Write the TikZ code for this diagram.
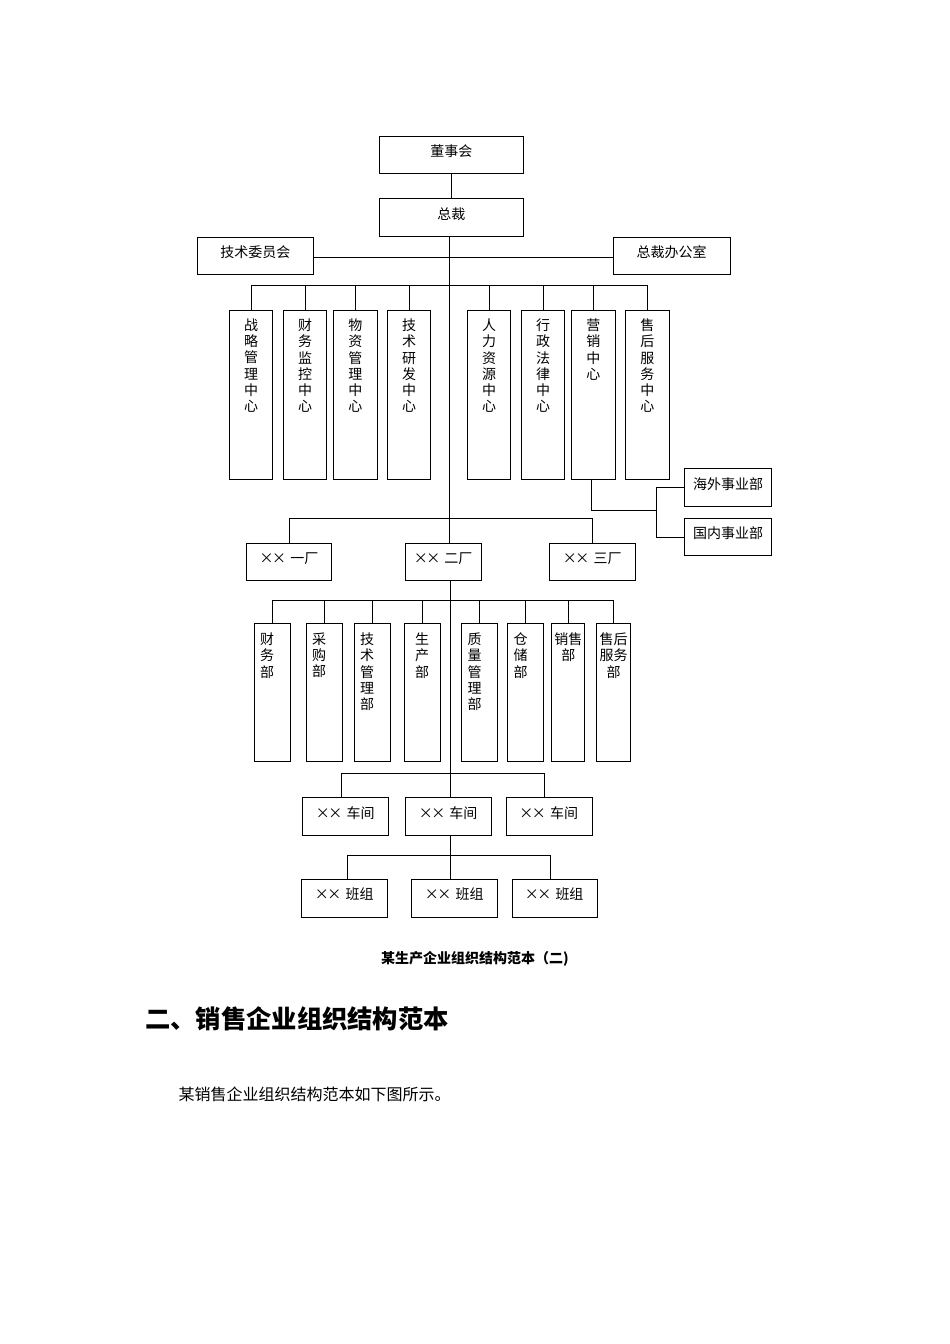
\documentclass[tikz,border=0pt]{standalone}
\usepackage{fontspec}
\newfontfamily\cjk{Noto Sans CJK SC}
\newcommand{\xxm}{\makebox[12.5pt]{×}\makebox[12.5pt]{×}\hspace{5pt}}
\begin{document}
\begin{tikzpicture}[x=1pt,y=-1pt,
  conn/.style={line width=1pt, draw=black},
  hbox/.style={draw=black, line width=1pt, inner sep=0pt, font=\cjk\fontsize{14}{16.3}\selectfont, text height=10pt, text depth=6.7pt},
  vbox/.style={draw=black, line width=1pt, inner sep=0pt},
  vtext/.style={font=\cjk\fontsize{14}{16.3}\selectfont, align=center, anchor=north, inner sep=0pt},
  cbox/.style={vbox, minimum width=43.3pt, minimum height=168.6pt, label={[vtext, yshift=-8.3pt]north:#1}},
  dbox/.style={vbox, minimum width=36pt, minimum height=137.3pt, label={[vtext, yshift=-9.3pt]north:#1}},
  dboxl/.style={vbox, minimum width=36pt, minimum height=137.3pt, label={[vtext, yshift=-9.3pt, xshift=-5pt]north:#1}}
]
\useasboundingbox (0,0) rectangle (950,1344);
\fill[white] (0,0) rectangle (950,1344);

% top level
\node[hbox, minimum width=144pt, minimum height=37.7pt] (dsh) at (451.3,154.9) {董事会};
\node[hbox, minimum width=144pt, minimum height=37.3pt] (zc) at (451.3,217.4) {总裁};
\node[hbox, minimum width=116pt, minimum height=37.7pt] (jsw) at (255.3,255.9) {技术委员会};
\node[hbox, minimum width=116.7pt, minimum height=37.7pt] (zcb) at (671.7,255.9) {总裁办公室};

% centres
\node[cbox={战\\略\\管\\理\\中\\心}] (c1) at (251,395) {};
\node[cbox={财\\务\\监\\控\\中\\心}] (c2) at (305,395) {};
\node[cbox={物\\资\\管\\理\\中\\心}] (c3) at (355.4,395) {};
\node[cbox={技\\术\\研\\发\\中\\心}] (c4) at (409.2,395) {};
\node[cbox={人\\力\\资\\源\\中\\心}] (c5) at (489.2,395) {};
\node[cbox={行\\政\\法\\律\\中\\心}] (c6) at (543.2,395) {};
\node[cbox={营\\销\\中\\心}] (c7) at (593.4,395) {};
\node[cbox={售\\后\\服\\务\\中\\心}] (c8) at (647.4,395) {};

\node[hbox, minimum width=87.4pt, minimum height=38pt] (hw) at (728,487.7) {海外事业部};
\node[hbox, minimum width=87.4pt, minimum height=37.3pt] (gn) at (728,537.3) {国内事业部};

% factories
\node[hbox, minimum width=85.3pt, minimum height=37.7pt] (f1) at (289.3,561.9) {\xxm 一厂};
\node[hbox, minimum width=76.4pt, minimum height=37.7pt] (f2) at (443.5,561.9) {\xxm 二厂};
\node[hbox, minimum width=86.4pt, minimum height=37.7pt] (f3) at (592.5,561.9) {\xxm 三厂};

% departments
\node[dboxl={财\\务\\部}] (d1) at (272,692.4) {};
\node[dboxl={采\\购\\部}] (d2) at (324.2,692.4) {};
\node[dboxl={技\\术\\管\\理\\部}] (d3) at (372.2,692.4) {};
\node[dbox={生\\产\\部}] (d4) at (422.2,692.4) {};
\node[dboxl={质\\量\\管\\理\\部}] (d5) at (479.5,692.4) {};
\node[dboxl={仓\\储\\部}] (d6) at (525.5,692.4) {};
\node[vbox, minimum width=33.3pt, minimum height=137.3pt, label={[vtext, yshift=-9.3pt]north:销售\\部}] (d7) at (568.3,692.4) {};
\node[vbox, minimum width=34pt, minimum height=137.3pt, label={[vtext, yshift=-9.3pt]north:售后\\服务\\部}] (d8) at (613.7,692.4) {};

% workshops
\node[hbox, minimum width=86pt, minimum height=37.6pt] (w1) at (345.7,816.5) {\xxm 车间};
\node[hbox, minimum width=86.4pt, minimum height=37.6pt] (w2) at (448.5,816.5) {\xxm 车间};
\node[hbox, minimum width=86pt, minimum height=37.6pt] (w3) at (549,816.5) {\xxm 车间};

% teams
\node[hbox, minimum width=86pt, minimum height=38pt] (t1) at (344.7,898) {\xxm 班组};
\node[hbox, minimum width=86pt, minimum height=38pt] (t2) at (454.7,898) {\xxm 班组};
\node[hbox, minimum width=85pt, minimum height=38pt] (t3) at (554.5,898) {\xxm 班组};

% coordinates for trunks and buses
\coordinate (tk) at (449.5,0);
\coordinate (tk2) at (450.3,0);
\coordinate (b1) at (0,285.5);
\coordinate (m) at (656,510.3);
\coordinate (b2) at (0,518);
\coordinate (b3) at (0,600);
\coordinate (b4l) at (341,773);
\coordinate (b4r) at (544.3,773);
\coordinate (b5l) at (347.3,855);
\coordinate (b5r) at (550.3,855);

% connectors
\draw[conn] (dsh.south) -- (zc.north);
\draw[conn] (zc.south -| tk) -- (f2.north -| tk);
\draw[conn] ([yshift=-1.8pt]jsw.east) -- ([yshift=-1.8pt]zcb.west);
\draw[conn] (c1.north) -- (c1.north |- b1) -- (c8.north |- b1) -- (c8.north);
\foreach \n in {c2,c3,c4,c5,c6,c7} { \draw[conn] (\n.north) -- (\n.north |- b1); }
\draw[conn] ([xshift=-1.7pt]c7.south) -- ([xshift=-1.7pt]c7.south |- m) -- (m);
\draw[conn] (hw.west) -- (hw.west -| m) -- (gn.west -| m) -- (gn.west);
\draw[conn] (f1.north) -- (f1.north |- b2) -- (f3.north |- b2) -- (f3.north);
\draw[conn] (f2.south -| tk2) -- (w2.north -| tk2);
\draw[conn] (d1.north) -- (d1.north |- b3) -- (d8.north |- b3) -- (d8.north);
\foreach \n in {d2,d3,d4,d5,d6,d7} { \draw[conn] (\n.north) -- (\n.north |- b3); }
\draw[conn] (b4l |- w1.north) -- (b4l) -- (b4r) -- (b4r |- w3.north);
\draw[conn] (w2.south -| tk2) -- (t2.north -| tk2);
\draw[conn] (b5l |- t1.north) -- (b5l) -- (b5r) -- (b5r |- t3.north);

% captions and text
\node[font=\cjk\bfseries\fontsize{14}{16}\selectfont, inner sep=0pt] (cap) at (475,959.3) {某生产企业组织结构范本（二)};
\node[font=\cjk\bfseries\fontsize{25.3}{28}\selectfont, inner sep=0pt, anchor=west] (head) at (145,1019) {二、销售企业组织结构范本};
\node[font=\cjk\fontsize{16}{18}\selectfont, inner sep=0pt, anchor=west] (body) at (178.3,1094) {某销售企业组织结构范本如下图所示。};
\end{tikzpicture}
\end{document}
